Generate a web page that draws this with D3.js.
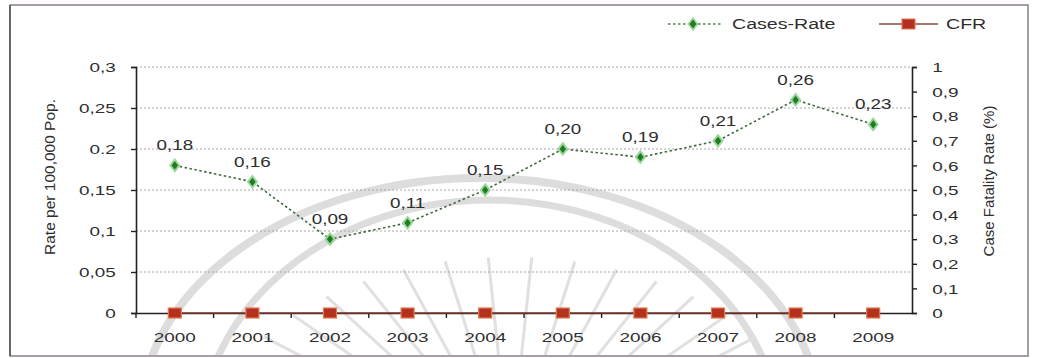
<!DOCTYPE html>
<html>
<head>
<meta charset="utf-8">
<script src="https://cdn.jsdelivr.net/npm/d3@7/dist/d3.min.js"></script>
<style>
  html, body { margin: 0; padding: 0; background: #fff; }
  svg { display: block; }
  text { font-family: "Liberation Sans", Arial, sans-serif; fill: #2e2e2e; }
</style>
</head>
<body>
<svg id="chart" width="1038" height="358"></svg>
<script>
// Cases per 100,000 population and case fatality rate, 2000-2009
const years = ["2000", "2001", "2002", "2003", "2004", "2005", "2006", "2007", "2008", "2009"];
const casesRate = [0.18, 0.16, 0.09, 0.11, 0.15, 0.20, 0.19, 0.21, 0.26, 0.23];
const cfr = [0, 0, 0, 0, 0, 0, 0, 0, 0, 0];

const leftTicks = [0, 0.05, 0.1, 0.15, 0.2, 0.25, 0.3];
const leftTickLabels = ["0", "0,05", "0,1", "0,15", "0.2", "0,25", "0,3"];
const rightTicks = [0, 0.1, 0.2, 0.3, 0.4, 0.5, 0.6, 0.7, 0.8, 0.9, 1];
const rightTickLabels = ["0", "0,1", "0,2", "0,3", "0,4", "0,5", "0,6", "0,7", "0,8", "0,9", "1"];

const seriesNames = ["Cases-Rate", "CFR"];
const leftTitle = "Rate per 100,000 Pop.";
const rightTitle = "Case Fatality Rate (%)";

const SX = 1.4; // horizontal text stretch

const svg = d3.select("#chart");
const plot = { left: 136, right: 912, top: 67, bottom: 313 };

const x = d3.scaleBand().domain(years).range([plot.left, plot.right]);
const cx = d => x(d) + x.bandwidth() / 2;
const yL = d3.scaleLinear().domain([0, 0.3]).range([plot.bottom, plot.top]);
const yR = d3.scaleLinear().domain([0, 1]).range([plot.bottom, plot.top]);

// frame
svg.append("defs").append("clipPath").attr("id", "frameClip")
  .append("rect").attr("x", 11).attr("y", 6).attr("width", 1016).attr("height", 349);
svg.append("rect")
  .attr("x", 10).attr("y", 5).attr("width", 1018).attr("height", 351)
  .attr("fill", "#fff").attr("stroke", "#8c7c8a").attr("stroke-width", 1.5);
svg.append("line").attr("x1", 10).attr("x2", 10).attr("y1", 5).attr("y2", 356)
  .attr("stroke", "#555").attr("stroke-width", 1.5);

// faint emblem in the background
const emblem = svg.append("g").attr("clip-path", "url(#frameClip)")
  .attr("fill", "none").attr("stroke", "#dddddd");
emblem.append("ellipse").attr("cx", 480).attr("cy", 420).attr("rx", 340).attr("ry", 242)
  .attr("stroke-width", 8);
emblem.append("ellipse").attr("cx", 490).attr("cy", 440).attr("rx", 290).attr("ry", 240)
  .attr("stroke-width", 7);
const rayAngles = d3.range(-60, 61, 8);
emblem.selectAll("line.ray").data(rayAngles).join("line")
  .attr("class", "ray")
  .attr("x1", a => 510 + 1.5 * 110 * Math.sin(a * Math.PI / 180))
  .attr("y1", a => 465 - 110 * Math.cos(a * Math.PI / 180))
  .attr("x2", a => 510 + 1.5 * 208 * Math.sin(a * Math.PI / 180))
  .attr("y2", a => 465 - 208 * Math.cos(a * Math.PI / 180))
  .attr("stroke-width", 3).attr("stroke", "#e0e0e0");

// horizontal dotted gridlines
svg.append("g").selectAll("line").data(leftTicks.filter(v => v > 0)).join("line")
  .attr("x1", plot.left).attr("x2", plot.right)
  .attr("y1", d => yL(d)).attr("y2", d => yL(d))
  .attr("stroke", "#a8a8a8").attr("stroke-width", 1.2).attr("stroke-dasharray", "2,2");

function styleAxis(g) {
  g.select(".domain").attr("stroke", "#222").attr("stroke-width", 1.6);
  g.selectAll(".tick line").attr("stroke", "#222").attr("stroke-width", 1.4);
  g.selectAll("text").attr("font-size", 13.5).attr("fill", "#2e2e2e")
    .attr("font-family", '"Liberation Sans", Arial, sans-serif');
}

// left axis
const gL = svg.append("g").attr("transform", `translate(${plot.left},0)`)
  .call(d3.axisLeft(yL).tickValues(leftTicks).tickSize(5).tickSizeOuter(5)
    .tickFormat((d, i) => leftTickLabels[i]));
styleAxis(gL);
gL.selectAll("text").attr("x", -14.5).attr("dy", "0.35em").attr("transform", `scale(${SX},1)`);

// right axis
const gR = svg.append("g").attr("transform", `translate(${plot.right},0)`)
  .call(d3.axisRight(yR).tickValues(rightTicks).tickSize(5).tickSizeOuter(5)
    .tickFormat((d, i) => rightTickLabels[i]));
styleAxis(gR);
gR.selectAll("text").attr("x", 14.5).attr("dy", "0.35em").attr("transform", `scale(${SX},1)`);

// bottom axis: ticks sit on the category boundaries
const gB = svg.append("g").attr("transform", `translate(0,${plot.bottom})`)
  .call(d3.axisBottom(x).tickSize(5).tickSizeOuter(0));
styleAxis(gB);
gB.selectAll(".tick line").attr("x1", -x.bandwidth() / 2).attr("x2", -x.bandwidth() / 2);
gB.selectAll("text").attr("y", 29).attr("dy", 0).attr("transform", `scale(${SX},1)`);

// axis titles
svg.append("text")
  .attr("transform", `translate(55,177) rotate(-90)`)
  .attr("text-anchor", "middle").attr("font-size", 15.5).text(leftTitle);
svg.append("text")
  .attr("transform", `translate(994,181) rotate(-90)`)
  .attr("text-anchor", "middle").attr("font-size", 15).text(rightTitle);

// CFR series
svg.append("path").datum(cfr)
  .attr("fill", "none").attr("stroke", "#7d3a2c").attr("stroke-width", 1.6)
  .attr("d", d3.line().x((d, i) => cx(years[i])).y(d => yR(d)));
svg.append("g").selectAll("rect").data(cfr).join("rect")
  .attr("x", (d, i) => cx(years[i]) - 6.5).attr("y", d => yR(d) - 5)
  .attr("width", 13).attr("height", 10)
  .attr("fill", "#b3311e").attr("stroke", "#e27a50").attr("stroke-width", 1.2);

// Cases-Rate series
svg.append("path").datum(casesRate)
  .attr("fill", "none").attr("stroke", "#3f6a3f").attr("stroke-width", 1.6)
  .attr("stroke-dasharray", "2.5,2.5")
  .attr("d", d3.line().x((d, i) => cx(years[i])).y(d => yL(d)));
const diamond = d3.symbol().type(d3.symbolDiamond).size(38);
svg.append("g").selectAll("path").data(casesRate).join("path")
  .attr("d", diamond)
  .attr("transform", (d, i) => `translate(${cx(years[i])},${yL(d)}) scale(1.35,1)`)
  .attr("fill", "#227a22").attr("stroke", "#9ad89a").attr("stroke-width", 1.6);

// value labels
const fmt = d => d.toFixed(2).replace(".", ",");
svg.append("g").selectAll("g").data(casesRate).join("g")
  .attr("transform", (d, i) => `translate(${cx(years[i])},${yL(d) - 15})`)
  .append("text")
  .attr("text-anchor", "middle").attr("font-size", 14.5)
  .attr("transform", `scale(1.3,1)`)
  .text(fmt);

// legend
const lg = svg.append("g");
lg.append("line").attr("x1", 668).attr("x2", 722).attr("y1", 24).attr("y2", 24)
  .attr("stroke", "#3f8a3f").attr("stroke-width", 1.6).attr("stroke-dasharray", "2.5,2.5");
lg.append("path").attr("d", diamond)
  .attr("transform", "translate(693,24) scale(1.35,1)")
  .attr("fill", "#227a22").attr("stroke", "#9ad89a").attr("stroke-width", 1.4);
lg.append("g").attr("transform", "translate(732,29)")
  .append("text").attr("font-size", 14).attr("fill", "#444").attr("transform", `scale(${SX},1)`).text(seriesNames[0]);
lg.append("line").attr("x1", 879).attr("x2", 938).attr("y1", 24).attr("y2", 24)
  .attr("stroke", "#8d4a3c").attr("stroke-width", 1.6);
lg.append("rect").attr("x", 902).attr("y", 19).attr("width", 13).attr("height", 10)
  .attr("fill", "#b3311e").attr("stroke", "#e27a50").attr("stroke-width", 1);
lg.append("g").attr("transform", "translate(946,29)")
  .append("text").attr("font-size", 14).attr("fill", "#444").attr("transform", `scale(${SX},1)`).text(seriesNames[1]);
</script>
</body>
</html>
